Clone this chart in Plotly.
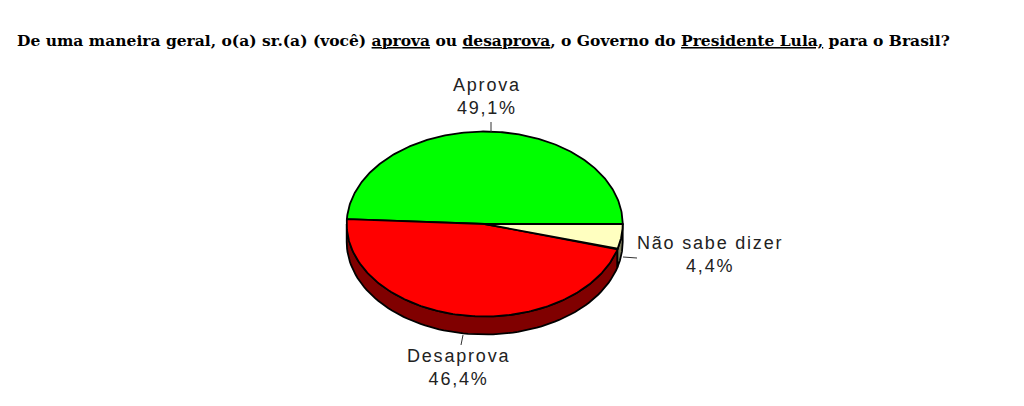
import numpy as np
import plotly.graph_objects as go

# ---- data ----
categories = ["Aprova", "Desaprova", "Não sabe dizer"]
values = [49.1, 46.4, 4.4]
value_labels = ["49,1%", "46,4%", "4,4%"]
top_colors = ["#00ff00", "#ff0000", "#ffffc0"]
side_colors = ["#008000", "#800000", "#808060"]
title_text = ("De uma maneira geral, o(a) sr.(a) (você) <u>aprova</u> ou <u>desaprova</u>, "
              "o Governo do <u>Presidente Lula,</u> para o Brasil?")

# ---- geometry (style) ----
CX, CY, RX, RY, DEPTH = 484.7, 224.0, 138.0, 92.5, 18.0

def pt(t):
    return CX + RX * np.cos(t), CY - RY * np.sin(t)

fig = go.Figure()

total = sum(values)
starts, ends = [], []
a = 0.0
for v in values:
    starts.append(a)
    a += v / total * 2 * np.pi
    ends.append(a)

# side walls (visible front half: t in [pi, 2pi])
for i, cat in enumerate(categories):
    s = max(starts[i], np.pi)
    e = min(ends[i], 2 * np.pi)
    if e <= s:
        continue
    t = np.linspace(s, e, 80)
    xs, ys = pt(t)
    px = np.concatenate([xs, xs[::-1], xs[:1]])
    py = np.concatenate([ys, ys[::-1] + DEPTH, ys[:1]])
    fig.add_trace(go.Scatter(x=px, y=py, mode="lines", fill="toself",
                             fillcolor=side_colors[i],
                             line=dict(color="black", width=1.8),
                             hoverinfo="skip", showlegend=False))

# top faces
for i, cat in enumerate(categories):
    t = np.linspace(starts[i], ends[i], 200)
    xs, ys = pt(t)
    px = np.concatenate([[CX], xs, [CX]])
    py = np.concatenate([[CY], ys, [CY]])
    fig.add_trace(go.Scatter(x=px, y=py, mode="lines", fill="toself",
                             fillcolor=top_colors[i],
                             line=dict(color="black", width=1.8),
                             name=cat, hoverinfo="name", showlegend=False))

lab_font = dict(family="Liberation Sans", size=18, color="#222222")
label_pos = [(487, 96), (458, 367), (710, 254)]
sp = '<span style="letter-spacing:1.8px">'
for i, cat in enumerate(categories):
    fig.add_annotation(x=label_pos[i][0], y=label_pos[i][1],
                       text=f"{sp}{cat}</span><br>{sp}{value_labels[i]}</span>",
                       showarrow=False, font=lab_font, align="center",
                       xref="x", yref="y")

# leader lines
for (x0, y0, x1, y1) in [(491, 122, 491, 132), (463, 335, 461, 345), (623, 257, 637, 258)]:
    fig.add_shape(type="line", x0=x0, y0=y0, x1=x1, y1=y1, xref="x", yref="y",
                  line=dict(color="#333333", width=1))

fig.add_annotation(x=15, y=40, xref="x", yref="y", xanchor="left", showarrow=False,
                   text=f"<b>{title_text}</b>",
                   font=dict(family="DejaVu Serif", size=15.5, color="black"))

# page body has an 8px margin: shift ranges so data units equal screen pixels
fig.update_layout(
    width=1024, height=406, margin=dict(l=0, r=0, t=0, b=0),
    paper_bgcolor="white", plot_bgcolor="white",
    xaxis=dict(range=[8, 1032], visible=False, fixedrange=True),
    yaxis=dict(range=[414, 8], visible=False, fixedrange=True),
)
fig.write_html("out.html")
